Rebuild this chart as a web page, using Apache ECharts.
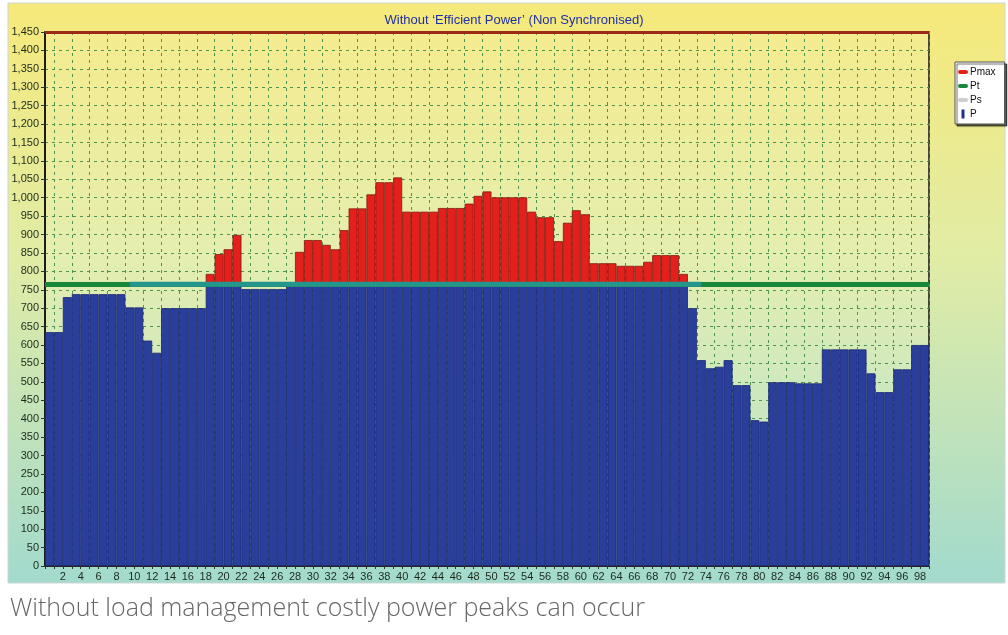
<!DOCTYPE html>
<html>
<head>
<meta charset="utf-8">
<script src="https://cdn.jsdelivr.net/npm/echarts@6/dist/echarts.min.js"></script>
<style>
html,body{margin:0;padding:0;background:#fff;}
#c{width:1008px;height:635px;}
</style>
</head>
<body>
<div id="c"></div>
<script>
// ---- data ----
const titleText = 'Without \u2018Efficient Power\u2019 (Non Synchronised)';
const captionText = 'Without load management costly power peaks can occur';
const seriesNames = ['Pmax', 'Pt', 'Ps', 'P'];
const categories = [];
for (let i = 1; i <= 99; i++) categories.push(String(i));
// total power per interval (P)
const P = [
  635, 635, 730, 738, 738, 738, 738, 738, 738, 702,
  702, 612, 579, 700, 700, 700, 700, 700, 793, 847,
  860, 899, 752, 752, 752, 752, 752, 765, 853, 885,
  885, 872, 860, 912, 971, 971, 1009, 1042, 1042, 1055,
  962, 962, 962, 962, 972, 972, 972, 984, 1005, 1017,
  1001, 1001, 1001, 1001, 962, 947, 947, 882, 932, 966,
  955, 822, 822, 822, 815, 815, 815, 826, 844, 844,
  844, 793, 700, 559, 537, 541, 559, 491, 491, 396,
  392, 499, 499, 499, 496, 496, 496, 588, 588, 588,
  588, 588, 523, 472, 472, 534, 534, 600, 600
];
const PT = 765;          // threshold (Pt)
const PMAX_LINE = 1450;  // top limit line
const Ps = [['10', 765], ['74', 765]];
const yMin = 0, yMax = 1450, yStep = 50;
const xLabelMin = 0, xLabelMax = 99, xLabelStep = 2;

// derived stacks
const blue = P.map(v => Math.min(v, PT));
const red = P.map(v => v > PT ? v - PT : null);

const chart = echarts.init(document.getElementById('c'), null, {renderer: 'canvas'});
const font = "'Liberation Sans', Arial, sans-serif";
const gridColor = '#4c9450';
const lineIcon = 'path://M2,0h6a2,2 0 0 1 0,4h-6a2,2 0 0 1 0,-4z';
const barIcon = 'path://M0,0h3v9h-3z';

const option = {
  animation: false,
  textStyle: {fontFamily: font},
  title: {
    text: titleText,
    left: 509, top: 9, textAlign: 'center',
    textStyle: {color: '#1f2fa6', fontSize: 13, fontWeight: 'normal', fontFamily: font}
  },
  legend: {
    orient: 'vertical',
    left: 955, top: 62,
    backgroundColor: '#ffffff',
    borderColor: '#555', borderWidth: 1,
    shadowColor: 'rgba(0,0,0,0.6)', shadowOffsetX: 2, shadowOffsetY: 2, shadowBlur: 1,
    padding: [5, 9, 5, 3],
    itemGap: 4,
    itemWidth: 10, itemHeight: 9,
    itemStyle: {borderWidth: 0},
    textStyle: {fontSize: 10, color: '#111', fontFamily: font, padding: [0, 0, 0, -3]},
    data: [
      {name: 'Pmax', icon: lineIcon, itemStyle: {color: '#e3201b', borderWidth: 0}},
      {name: 'Pt', icon: lineIcon, itemStyle: {color: '#17873a', borderWidth: 0}},
      {name: 'Ps', icon: lineIcon, itemStyle: {color: '#cfcfcf', borderWidth: 0}},
      {name: 'P', icon: barIcon, itemStyle: {color: '#1f2f8a', borderWidth: 0}}
    ]
  },
  grid: {
    left: 45, right: 79, top: 32, bottom: 69,
    show: true, borderColor: '#111', borderWidth: 1.5,
    backgroundColor: 'rgba(255,255,255,0.12)'
  },
  xAxis: [
    {
      type: 'category', data: categories, boundaryGap: true,
      axisLine: {lineStyle: {color: '#222', width: 1}},
      axisTick: {show: true, interval: 0, length: 3, lineStyle: {color: '#333'}},
      axisLabel: {show: false},
      splitLine: {
        show: true,
        interval: function (idx) { return idx % 2 === 1; },
        lineStyle: {color: gridColor, type: [3, 4], width: 1}
      }
    },
    {
      type: 'value', min: xLabelMin, max: xLabelMax, interval: xLabelStep,
      position: 'bottom',
      axisLine: {show: false}, axisTick: {show: false}, splitLine: {show: false},
      axisLabel: {
        margin: 5, fontSize: 11, color: '#1c2a1c', fontFamily: font,
        formatter: function (v) { return (v > 0 && v < 99 && v % 2 === 0) ? String(v) : ''; }
      }
    }
  ],
  yAxis: {
    type: 'value', min: yMin, max: yMax, interval: yStep,
    axisLine: {show: true, lineStyle: {color: '#111', width: 1.5}},
    axisTick: {show: true, length: 4, lineStyle: {color: '#333'}},
    axisLabel: {
      margin: 6, fontSize: 11, color: '#1c2a1c', fontFamily: font,
      formatter: function (v) { return v.toLocaleString('en-US'); }
    },
    splitLine: {show: true, lineStyle: {color: gridColor, type: [3, 4], width: 1}}
  },
  graphic: {
    elements: [
      {
        type: 'rect', z: -100, silent: true,
        shape: {x: 8, y: 3, width: 997, height: 580},
        style: {
          fill: {
            type: 'linear', x: 0, y: 0, x2: 0, y2: 1,
            colorStops: [
              {offset: 0, color: '#f6e97a'},
              {offset: 0.45, color: '#e0eca6'},
              {offset: 1, color: '#a2dacd'}
            ]
          },
          stroke: '#cdd5d2', lineWidth: 1
        }
      },
      {
        type: 'text', left: 10, top: 596, silent: true,
        style: {
          text: captionText, fill: '#666666',
          font: "300 25px 'Open Sans', 'Liberation Sans', sans-serif"
        }
      }
    ]
  },
  series: [
    {
      name: 'P', type: 'bar', stack: 'p', data: blue,
      barCategoryGap: '0%',
      itemStyle: {color: '#2a3f9c', borderColor: '#1b2670', borderWidth: 0.8}
    },
    {
      name: 'Pmax', type: 'bar', stack: 'p', data: red,
      barCategoryGap: '0%',
      itemStyle: {color: '#e3201b', borderColor: '#7e1a10', borderWidth: 0.8}
    },
    {
      name: 'Pt', type: 'line', data: [], color: '#17873a', z: 4,
      markLine: {
        silent: true, symbol: 'none', label: {show: false}, z: 4,
        data: [
          {yAxis: PT, lineStyle: {color: '#17873a', width: 5, type: 'solid'}},
          {yAxis: PMAX_LINE, lineStyle: {color: '#9c2a18', width: 3, type: 'solid'}}
        ]
      }
    },
    {
      name: 'Ps', type: 'line', data: Ps, z: 6, symbol: 'none',
      color: '#24968c',
      lineStyle: {color: '#24968c', width: 5}
    }
  ]
};
chart.setOption(option);
</script>
</body>
</html>
